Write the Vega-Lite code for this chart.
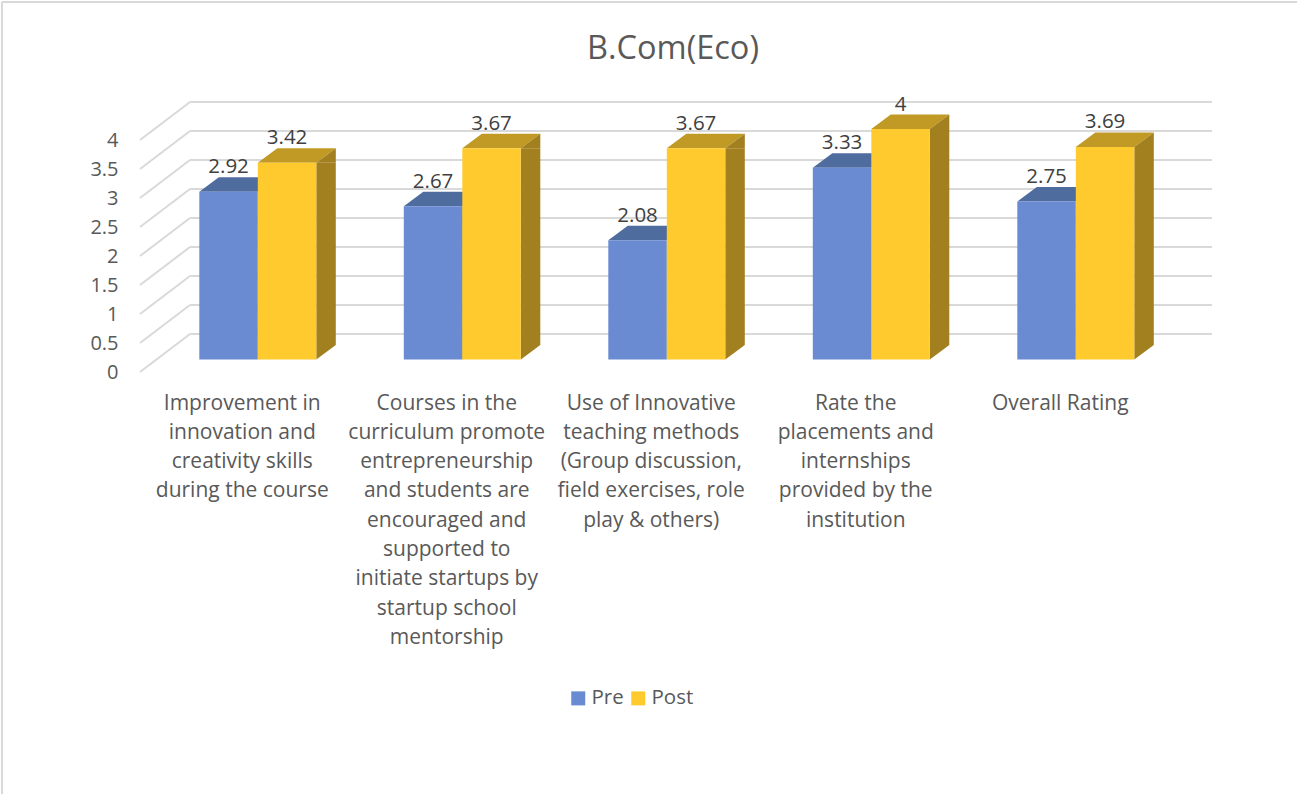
{
"$schema":"https://vega.github.io/schema/vega-lite/v6.json",
"width":1072,"height":270,
"autosize":{"type":"none"},
"padding":{"left":140,"top":102,"right":85,"bottom":422},
"background":"white",
"config":{"view":{"stroke":null},"font":"Open Sans"},
"title":{"text":"B.Com(Eco)","fontSize":32.5,"fontWeight":"normal","color":"#595959","font":"Open Sans","anchor":"middle","dx":-3,"offset":-64},
"data":{"values":[
{"category":"Improvement in\ninnovation and\ncreativity skills\nduring the course","series":"Pre","value":2.92},
{"category":"Improvement in\ninnovation and\ncreativity skills\nduring the course","series":"Post","value":3.42},
{"category":"Courses in the\ncurriculum promote\nentrepreneurship\nand students are\nencouraged and\nsupported to\ninitiate startups by\nstartup school\nmentorship","series":"Pre","value":2.67},
{"category":"Courses in the\ncurriculum promote\nentrepreneurship\nand students are\nencouraged and\nsupported to\ninitiate startups by\nstartup school\nmentorship","series":"Post","value":3.67},
{"category":"Use of Innovative\nteaching methods\n(Group discussion,\nfield exercises, role\nplay & others)","series":"Pre","value":2.08},
{"category":"Use of Innovative\nteaching methods\n(Group discussion,\nfield exercises, role\nplay & others)","series":"Post","value":3.67},
{"category":"Rate the\nplacements and\ninternships\nprovided by the\ninstitution","series":"Pre","value":3.33},
{"category":"Rate the\nplacements and\ninternships\nprovided by the\ninstitution","series":"Post","value":4},
{"category":"Overall Rating","series":"Pre","value":2.75},
{"category":"Overall Rating","series":"Post","value":3.69}
]},
"layer":[
{"data":{"values":[{"tick":0},{"tick":0.5},{"tick":1},{"tick":1.5},{"tick":2},{"tick":2.5},{"tick":3},{"tick":3.5},{"tick":4}]},
 "mark":{"type":"rule","color":"#d9d9d9","strokeWidth":2,"y2Offset":-38},
 "encoding":{
  "x":{"datum":0,"type":"quantitative","axis":null,"scale":{"domain":[0,5.242],"range":[0,1072],"nice":false,"zero":false}},
  "x2":{"datum":0.2445},
  "y":{"field":"tick","type":"quantitative","scale":{"domain":[0,4.6552],"nice":false,"zero":false},"axis":{"title":null,"values":[0,0.5,1,1.5,2,2.5,3,3.5,4],"format":"~g","domain":false,"ticks":false,"grid":false,"labelFontSize":20,"labelColor":"#595959","labelPadding":22,"labelFont":"Open Sans","labelOverlap":false}},
  "y2":{"field":"tick"}}},
{"data":{"values":[{"tick":0},{"tick":0.5},{"tick":1},{"tick":1.5},{"tick":2},{"tick":2.5},{"tick":3},{"tick":3.5},{"tick":4}]},
 "mark":{"type":"rule","color":"#d9d9d9","strokeWidth":2,"yOffset":-38},
 "encoding":{
  "x":{"datum":0.2445,"type":"quantitative","axis":null,"scale":{"domain":[0,5.242],"range":[0,1072],"nice":false,"zero":false}},
  "x2":{"datum":5.242},
  "y":{"field":"tick","type":"quantitative","axis":null}}},
{"data":{"values":[{"edge":"left"}]},
 "mark":{"type":"rule","color":"#d9d9d9","strokeWidth":2},
 "encoding":{
  "x":{"datum":-0.675,"type":"quantitative","axis":null,"scale":{"domain":[0,5.242],"range":[0,1072],"nice":false,"zero":false}},
  "y":{"datum":6.379,"type":"quantitative","axis":null},
  "y2":{"datum":-7.276}}},
{"data":{"values":[{"edge":"top"}]},
 "mark":{"type":"rule","color":"#d9d9d9","strokeWidth":2},
 "encoding":{
  "x":{"datum":-0.675,"type":"quantitative","axis":null,"scale":{"domain":[0,5.242],"range":[0,1072],"nice":false,"zero":false}},
  "x2":{"datum":5.66},
  "y":{"datum":6.379,"type":"quantitative","axis":null}}},
{"mark":{"type":"point","shape":"M-29.25,0L29.25,0L48.75,-14.5L-9.75,-14.5Z","size":4,"filled":true,"opacity":1,"strokeWidth":0,"yOffset":-11},
 "encoding":{
  "x":{"field":"category","type":"nominal","sort":null,"axis":null,"scale":{"type":"band","range":[0,1022.5],"paddingInner":0,"paddingOuter":0}},
  "xOffset":{"field":"series","type":"nominal","scale":{"type":"band","domain":["Pre","Post"],"range":[59.3,176.3],"paddingInner":0,"paddingOuter":0}},
  "y":{"field":"value","type":"quantitative","axis":null},
  "color":{"field":"series","type":"nominal","legend":null,"scale":{"domain":["Pre","Post"],"range":["#4F6C9F","#C09A24"]}}}},
{"mark":{"type":"point","shape":"M29.25,0L48.75,0L48.75,-14.5Z","size":4,"filled":true,"opacity":1,"strokeWidth":0,"yOffset":-11,"color":"#A28020"},
 "encoding":{
  "x":{"field":"category","type":"nominal","sort":null,"axis":null,"scale":{"type":"band","range":[0,1022.5],"paddingInner":0,"paddingOuter":0}},
  "xOffset":{"field":"series","type":"nominal","scale":{"type":"band","domain":["Pre","Post"],"range":[59.3,176.3],"paddingInner":0,"paddingOuter":0}},
  "y":{"field":"value","type":"quantitative","axis":null}}},
{"mark":{"type":"point","shape":"M29.25,-14.5L48.75,-14.5L29.25,0Z","size":4,"filled":true,"opacity":1,"strokeWidth":0,"yOffset":-12.5,"color":"#A28020"},
 "encoding":{
  "x":{"field":"category","type":"nominal","sort":null,"axis":null,"scale":{"type":"band","range":[0,1022.5],"paddingInner":0,"paddingOuter":0}},
  "xOffset":{"field":"series","type":"nominal","scale":{"type":"band","domain":["Pre","Post"],"range":[59.3,176.3],"paddingInner":0,"paddingOuter":0}},
  "y":{"datum":0,"type":"quantitative","axis":null}}},
{"mark":{"type":"rule","color":"#A28020","strokeWidth":19.5,"yOffset":-11,"y2Offset":-27},
 "encoding":{
  "x":{"field":"category","type":"nominal","sort":null,"axis":null,"scale":{"type":"band","range":[0,1022.5],"paddingInner":0,"paddingOuter":0}},
  "xOffset":{"field":"series","type":"nominal","scale":{"type":"band","domain":["Pre","Post"],"range":[98.3,215.3],"paddingInner":0,"paddingOuter":0}},
  "y":{"field":"value","type":"quantitative","axis":null},
  "y2":{"datum":0}}},
{"mark":{"type":"bar","yOffset":-11,"y2Offset":-12.5},
 "encoding":{
  "x":{"field":"category","type":"nominal","sort":null,"scale":{"type":"band","range":[0,1022.5],"paddingInner":0,"paddingOuter":0},
   "axis":{"title":null,"domain":false,"ticks":false,"grid":false,"labelAngle":0,"labelAlign":"center","labelBaseline":"top","labelFontSize":21,"labelColor":"#595959","labelFont":"Open Sans","labelPadding":20,"labelLimit":400,"labelOverlap":false,"labelLineHeight":29.3,"labelExpr":"split(datum.label,'\\n')"}},
  "xOffset":{"field":"series","type":"nominal","scale":{"type":"band","domain":["Pre","Post"],"range":[59.3,176.3],"paddingInner":0,"paddingOuter":0}},
  "y":{"field":"value","type":"quantitative","axis":null},
  "y2":{"datum":0},
  "color":{"field":"series","type":"nominal","scale":{"domain":["Pre","Post"],"range":["#6A8AD2","#FFCA2E"]},
   "legend":{"title":null,"orient":"none","legendX":428,"legendY":586,"direction":"horizontal","columns":2,"symbolType":"square","symbolSize":196,"symbolStrokeWidth":0,"labelFontSize":20.5,"labelColor":"#595959","labelFont":"Open Sans","labelOffset":3,"columnPadding":4}}}},
{"mark":{"type":"text","fontSize":20.5,"color":"#404040","font":"Open Sans","baseline":"middle","align":"center","yOffset":-35.5},
 "encoding":{
  "x":{"field":"category","type":"nominal","sort":null,"axis":null,"scale":{"type":"band","range":[0,1022.5],"paddingInner":0,"paddingOuter":0}},
  "xOffset":{"field":"series","type":"nominal","scale":{"type":"band","domain":["Pre","Post"],"range":[59.3,176.3],"paddingInner":0,"paddingOuter":0}},
  "y":{"field":"value","type":"quantitative","axis":null},
  "text":{"field":"value","type":"quantitative"}}}
],
"resolve":{"scale":{"x":"independent","xOffset":"independent","color":"independent"},"axis":{"y":"independent"}}
}
